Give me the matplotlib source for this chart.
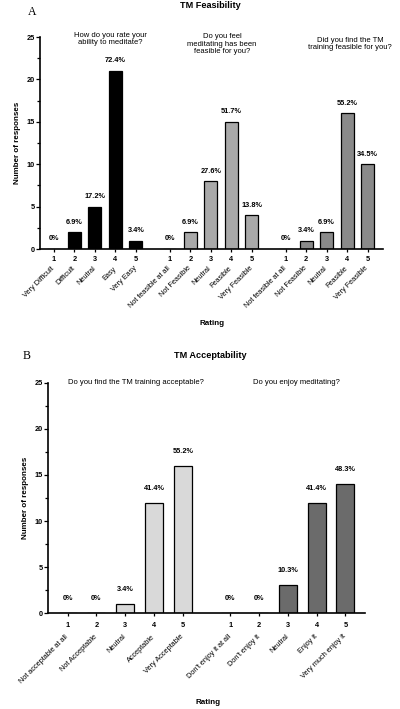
import matplotlib
matplotlib.use("Agg")
import matplotlib.pyplot as plt
from matplotlib.ticker import MultipleLocator
import matplotlib.transforms as mtransforms

plt.rcParams['font.family'] = ['Liberation Sans', 'DejaVu Sans']

# ---- Data ----
ratings = ["1", "2", "3", "4", "5"]

# Panel A: TM Feasibility
a_questions = ["How do you rate your\nability to meditate?",
               "Do you feel\nmeditating has been\nfeasible for you?",
               "Did you find the TM\ntraining feasible for you?"]
a_cats = [["Very Difficult", "Difficult", "Neutral", "Easy", "Very Easy"],
          ["Not feasible at all", "Not Feasible", "Neutral", "Feasible", "Very Feasible"],
          ["Not feasible at all", "Not Feasible", "Neutral", "Feasible", "Very Feasible"]]
a_counts = [[0, 2, 5, 21, 1],
            [0, 2, 8, 15, 4],
            [0, 1, 2, 16, 10]]
a_pcts = [["0%", "6.9%", "17.2%", "72.4%", "3.4%"],
          ["0%", "6.9%", "27.6%", "51.7%", "13.8%"],
          ["0%", "3.4%", "6.9%", "55.2%", "34.5%"]]
a_colors = ["#000000", "#a9a9a9", "#8a8a8a"]

# Panel B: TM Acceptability
b_questions = ["Do you find the TM training acceptable?", "Do you enjoy meditating?"]
b_cats = [["Not acceptable at all", "Not Acceptable", "Neutral", "Acceptable", "Very Acceptable"],
          ["Don't enjoy it at all", "Don't enjoy it", "Neutral", "Enjoy it", "Very much enjoy it"]]
b_counts = [[0, 0, 1, 12, 16],
            [0, 0, 3, 12, 14]]
b_pcts = [["0%", "0%", "3.4%", "41.4%", "55.2%"],
          ["0%", "0%", "10.3%", "41.4%", "48.3%"]]
b_colors = ["#d9d9d9", "#6b6b6b"]

GROUP_GAP = 5.65
BAR_W = 0.63
FS = 5.3

fig = plt.figure(figsize=(4.0, 7.09), dpi=100)


def draw_panel(ax, counts, pcts, cats, colors, pct_off, cat_off, num_off, xmax):
    positions = []
    for g in range(len(counts)):
        xs = [g * GROUP_GAP + i for i in range(5)]
        positions += xs
        ax.bar(xs, counts[g], width=BAR_W, color=colors[g], edgecolor="black", linewidth=0.9, zorder=2)
        for x, v, p in zip(xs, counts[g], pcts[g]):
            ax.annotate(p, (x, v), xytext=(0, pct_off), textcoords="offset points",
                        ha="center", va="center", fontsize=FS, fontweight="bold")
        trans = mtransforms.blended_transform_factory(ax.transData, ax.transAxes)
        for x, c in zip(xs, cats[g]):
            t = ax.text(x, 0, c, transform=trans, rotation=45, ha="right", va="top",
                        rotation_mode="anchor", fontsize=FS)
            t.set_transform(trans + mtransforms.ScaledTranslation(-2 / 72, -cat_off / 72, fig.dpi_scale_trans))
    ax.set_xticks(positions)
    ax.set_xticklabels(ratings * len(counts), fontsize=FS, fontweight="bold")
    ax.tick_params(axis="x", length=2.5, width=0.9, pad=num_off)
    ax.set_xlim(-0.68, xmax)
    ax.set_ylim(0, 25)
    ax.yaxis.set_major_locator(MultipleLocator(5))
    ax.yaxis.set_minor_locator(MultipleLocator(2.5))
    ax.tick_params(axis="y", which="major", length=3, width=0.9, labelsize=FS, pad=1)
    ax.tick_params(axis="y", which="minor", length=2, width=0.9)
    for lab in ax.get_yticklabels():
        lab.set_fontweight("bold")
    for s in ["top", "right"]:
        ax.spines[s].set_visible(False)
    for s in ["left", "bottom"]:
        ax.spines[s].set_linewidth(1.2)
    ax.set_ylabel("Number of responses", fontsize=FS + 0.5, fontweight="bold", labelpad=4)
    return positions


# Panel A
axA = fig.add_axes([40 / 400, 1 - 249 / 709, 343 / 400, 212 / 709])
draw_panel(axA, a_counts, a_pcts, a_cats, a_colors, pct_off=7.2, cat_off=11.5, num_off=2.5, xmax=16.05)
fig.text(28 / 400, 1 - 12 / 709, "A", fontsize=8.5, family="Liberation Serif", ha="left", va="center")
fig.text(210 / 400, 1 - 6 / 709, "TM Feasibility", fontsize=6.6, fontweight="bold", ha="center", va="center")
q_pos = [(110, 39), (222, 44), (350, 44)]
for (qx, qy), q in zip(q_pos, a_questions):
    fig.text(qx / 400, 1 - qy / 709, q, fontsize=5.5, ha="center", va="center", linespacing=1.15)
fig.text(212 / 400, 1 - 324 / 709, "Rating", fontsize=FS + 0.5, fontweight="bold", ha="center", va="center")

# Panel B
axB = fig.add_axes([48 / 400, 1 - 613 / 709, 317 / 400, 230 / 709])
draw_panel(axB, b_counts, b_pcts, b_cats, b_colors, pct_off=10.5, cat_off=14.5, num_off=4, xmax=10.33)
fig.text(23 / 400, 1 - 356 / 709, "B", fontsize=8.5, family="Liberation Serif", ha="left", va="center")
fig.text(210 / 400, 1 - 355 / 709, "TM Acceptability", fontsize=6.6, fontweight="bold", ha="center", va="center")
fig.text(68 / 400, 1 - 382 / 709, b_questions[0], fontsize=5.5, ha="left", va="center")
fig.text(253 / 400, 1 - 382 / 709, b_questions[1], fontsize=5.5, ha="left", va="center")
fig.text(208 / 400, 1 - 702 / 709, "Rating", fontsize=FS + 0.5, fontweight="bold", ha="center", va="center")

fig.savefig("out.png", dpi=100)
